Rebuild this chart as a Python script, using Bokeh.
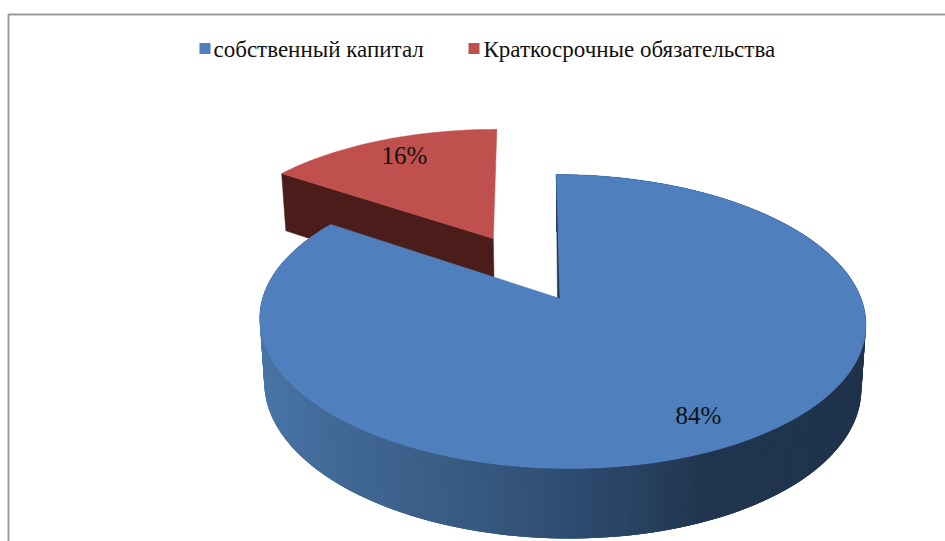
import numpy as np
from bokeh.core.properties import value
from bokeh.embed import file_html
from bokeh.models import ColumnDataSource
from bokeh.plotting import figure
from bokeh.resources import INLINE

# Chart content
categories = ["собственный капитал", "Краткосрочные обязательства"]
shares = [84, 16]
share_labels = ["84%", "16%"]
face_colors = ["#4f7fbc", "#c0504d"]

# Perspective camera for the tilted disc (page pixels)
CX, CY = 561.3, 298.0
K = 0.1566
AX, AY, SKEW = 299.3, 143.4, -6.4
DEPTH, DEPTH_K, INWARD = 63.0, 0.10, 0.015
EXPLODE = 0.505
WARP = 1.8  # azimuth distortion of the disc, degrees
FONT = "Liberation Serif"


def project(x, z):
    w = 1 + K * z
    return CX + (AX * x + SKEW * z) / w, CY - AY * z / w


def drop(px, z):
    """Lower edge of a vertical wall whose top edge sits at plane depth z."""
    return CX + (px - CX) * (1 - INWARD), DEPTH / (1 + DEPTH_K * z)


def warped(t, ref):
    return t - WARP * np.sin(np.radians(t)) / np.sin(np.radians(ref))


def rim(t0, t1, n, ref, ox=0.0, oz=0.0):
    t = np.radians(warped(np.linspace(t0, t1, n), ref))
    return -np.sin(t) + ox, np.cos(t) + oz


p = figure(width=945, height=541, x_range=(0, 945), y_range=(541, 0),
           output_backend="svg", toolbar_location=None,
           min_border=0, outline_line_color=None, background_fill_color="white")
p.axis.visible = False
p.grid.visible = False

# Chart frame: only the top and left sides fall inside the page
p.line(x=[8, 8, 945], y=[541, 14, 14], line_color="#9a9a9a", line_width=2)

# Legend row
legend_x = [204.5, 473.5]
text_x = [213, 483]
p.scatter(legend_x, [48, 48], marker="square", size=11, color=face_colors, line_color=None)
p.text(text_x, [49, 49], text=categories, text_font=value(FONT), text_font_size="23px",
       text_baseline="middle", text_align="left", text_color="#111111")

# Sweep of each slice, counter-clockwise from the far point of the disc
red_sweep = 360 * shares[1] / sum(shares)
mid = np.radians(warped(red_sweep / 2, red_sweep))
off_x, off_z = -np.sin(mid) * EXPLODE, np.cos(mid) * EXPLODE

# Pulled-out slice: cut wall first, then its top face
arc_x, arc_z = rim(0, red_sweep, 40, red_sweep, off_x, off_z)
tip_x, tip_y = project(off_x, off_z)
corner_x, corner_y = project(arc_x[-1], arc_z[-1])
bx0, d0 = drop(corner_x, arc_z[-1])
bx1, d1 = drop(tip_x, off_z)
p.patch([corner_x, tip_x, bx1, bx0], [corner_y, tip_y, tip_y + d1, corner_y + d0],
        fill_color="#4a1d1a", line_color="#4a1d1a", line_width=0.5)
rx, ry = project(arc_x, arc_z)
p.patch(np.r_[tip_x, rx], np.r_[tip_y, ry], fill_color=face_colors[1],
        line_color=face_colors[1], line_width=0.5)

# Main slice: shaded outer wall; each quad overlaps the next so no seams show
N = 361
ex, ez = rim(red_sweep, 360, N, red_sweep)
px, py = project(ex, ez)
bx, dy = drop(px, ez)
shade_x = [258, 330, 450, 560, 640, 700, 865]
shade_r = [72, 66, 58, 47, 40, 33, 31]
shade_g = [118, 106, 92, 78, 66, 54, 51]
shade_b = [168, 152, 132, 115, 97, 80, 76]
xs, ys, cols = [], [], []
for i in range(N - 1):
    j = min(i + 3, N - 1)
    xs.append([px[i], px[j], bx[j], bx[i]])
    ys.append([py[i], py[j], py[j] + dy[j], py[i] + dy[i]])
    c = (px[i] + px[i + 1]) / 2
    cols.append("#%02x%02x%02x" % (int(np.interp(c, shade_x, shade_r)),
                                   int(np.interp(c, shade_x, shade_g)),
                                   int(np.interp(c, shade_x, shade_b))))
p.patches("xs", "ys", fill_color="cols", line_color=None,
          source=ColumnDataSource(dict(xs=xs, ys=ys, cols=cols)))

# Narrow sliver of the inner cut wall beside the gap
apex_x = CX - 1.8
p.patch([px[-1], apex_x, apex_x - 2.5], [py[-1], CY, CY + 2],
        fill_color="#1f334c", line_color="#1f334c", line_width=0.5)

# Top face of the main slice
p.patch(np.r_[apex_x, px], np.r_[CY, py], fill_color=face_colors[0],
        line_color=face_colors[0], line_width=0.5)

# Share labels
p.text([698, 404], [415, 155], text=share_labels, text_font=value(FONT), text_font_size="25px",
       text_align="center", text_baseline="middle", text_color="#111111")

open("out.html", "w").write(file_html(p, INLINE))
